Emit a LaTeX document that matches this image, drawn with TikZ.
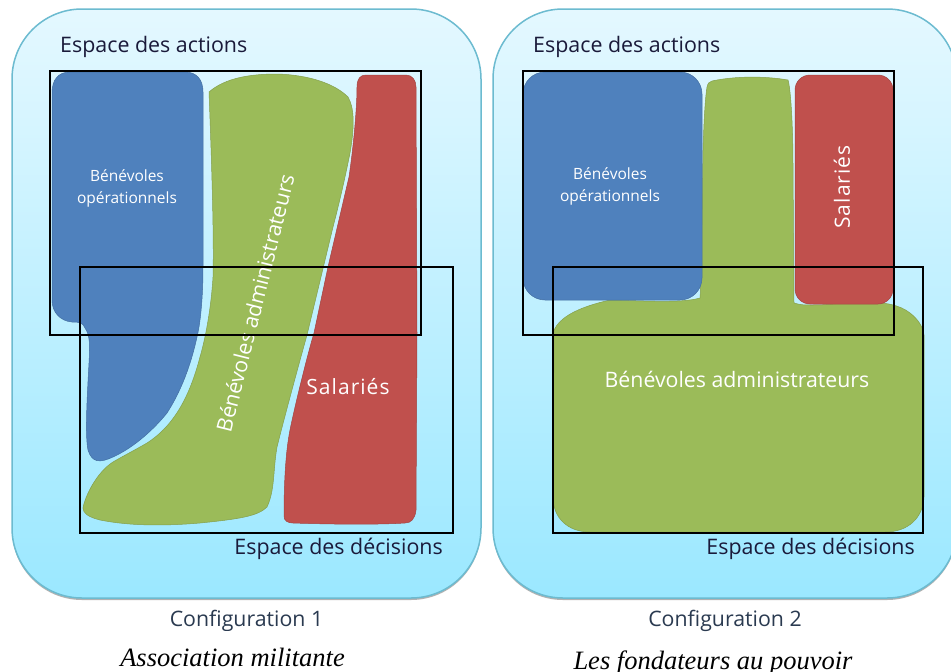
\documentclass[tikz,border=0pt]{standalone}
\usepackage{fontspec}
\setmainfont{Open Sans}
\newfontfamily\capfont{Liberation Serif}
\begin{document}
\begin{tikzpicture}[x=1pt,y=-1pt,
  panel/.style={rounded corners=70pt,draw=panelline,line width=1.5pt,top color=paneltop,bottom color=panelbot},
  panelshadow/.style={rounded corners=70pt,fill=black!30,draw=none},
  blueshape/.style={fill=myblue,draw=myblue!85!black,line width=.5pt},
  greenshape/.style={fill=mygreen,draw=mygreen!85!black,line width=.5pt},
  redshape/.style={fill=myred,draw=myred!85!black,line width=.5pt},
  zone/.style={draw=black,line width=1.6pt},
  zonethin/.style={draw=black,line width=1.4pt},
  titletext/.style={text=titlecol,font=\fontsize{21.4}{23}\selectfont,inner sep=0pt},
  bigtext/.style={text=white,font=\fontsize{21.3}{23}\selectfont,inner sep=0pt},
  salatext/.style={text=white,font=\fontsize{21}{23}\addfontfeature{LetterSpace=5}\selectfont,inner sep=0pt},
  smalltext/.style={text=white,font=\fontsize{15.5}{22}\selectfont,inner sep=0pt,align=center},
  conftext/.style={text=confcol,font=\fontsize{21.3}{23}\selectfont,inner sep=0pt},
  captext/.style={text=black,font=\capfont\itshape\fontsize{26.5}{28}\selectfont,inner sep=0pt,anchor=base}]
\definecolor{panelline}{HTML}{6CBBD0}
\definecolor{paneltop}{HTML}{E4F8FF}
\definecolor{panelbot}{HTML}{9BE8FF}
\definecolor{myblue}{HTML}{4F81BD}
\definecolor{mygreen}{HTML}{9BBB59}
\definecolor{myred}{HTML}{C0504D}
\definecolor{titlecol}{HTML}{1A1A3A}
\definecolor{confcol}{HTML}{2A3A50}
\useasboundingbox (0,0) rectangle (951,672);
\fill[white] (0,0) rectangle (951,672);

% panels
\fill[panelshadow] (12,11) rectangle (481,600);
\path[panel] (12,9) rectangle (481,598);
\begin{scope}
\clip (0,0) rectangle (951,672);
\fill[panelshadow] (493,11) rectangle (957,600);
\path[panel] (493,9) rectangle (957,598);
\end{scope}

% left: blue
\path[blueshape] (52,93) .. controls (52,80) and (58,72) .. (70,72)
  -- (185,72) .. controls (197,72) and (203,80) .. (203,92)
  -- (203,267) .. controls (203,300) and (200,325) .. (197,337)
  .. controls (193,355) and (185,385) .. (167,413)
  .. controls (155,428) and (135,447) .. (113,457)
  .. controls (100,463) and (92,463) .. (88,450)
  .. controls (85,435) and (87,400) .. (89,363)
  .. controls (90,345) and (90,335) .. (85,328)
  .. controls (83,323) and (80,322) .. (72,322)
  .. controls (60,321) and (52,312) .. (52,300) -- cycle;
% left: green
\path[greenshape] (209,92) .. controls (225,78) and (250,74) .. (277,74)
  .. controls (310,75) and (335,84) .. (348,97)
  .. controls (354,107) and (355,125) .. (350,153)
  .. controls (345,178) and (340,200) .. (333,227)
  -- (307,335) .. controls (300,360) and (285,415) .. (277,447)
  .. controls (273,470) and (275,490) .. (267,507)
  .. controls (258,516) and (240,519) .. (200,523)
  .. controls (165,526) and (130,526) .. (100,520)
  .. controls (88,517) and (83,513) .. (83,508)
  .. controls (85,496) and (97,472) .. (113,462)
  .. controls (125,455) and (135,450) .. (147,443)
  .. controls (175,425) and (190,395) .. (200,357)
  .. controls (205,340) and (211,310) .. (213,277)
  .. controls (214,240) and (212,170) .. (209,92) -- cycle;
% left: red
\path[redshape] (357,87) .. controls (357,79) and (360,75) .. (366,75)
  -- (406,75) .. controls (412,75) and (416,80) .. (416,87)
  -- (417,333) -- (416,510) .. controls (415,519) and (411,523) .. (405,523)
  .. controls (375,525) and (320,524) .. (293,523)
  .. controls (288,523) and (284,521) .. (284,516)
  .. controls (284,480) and (286,450) .. (290,430)
  .. controls (294,410) and (306,360) .. (314,333)
  -- (328,267) -- (349,177) .. controls (353,150) and (357,110) .. (357,87) -- cycle;

% right: green
\path[greenshape] (707,87) .. controls (708,83) and (709,82) .. (712,81)
  .. controls (735,76) and (765,76) .. (788,80)
  .. controls (791,90) and (793,130) .. (793,167)
  -- (794,303) .. controls (800,305) and (805,305) .. (813,305)
  .. controls (835,305) and (850,301) .. (863,302)
  .. controls (885,302) and (900,305) .. (910,313)
  .. controls (918,319) and (923,327) .. (924,335)
  -- (924,497) .. controls (923,518) and (908,532) .. (885,532)
  -- (590,532) .. controls (568,532) and (553,518) .. (553,497)
  -- (554,330) .. controls (560,318) and (575,308) .. (610,300)
  .. controls (630,300) and (680,304) .. (700,298)
  .. controls (701,290) and (702,200) .. (703,150)
  .. controls (704,120) and (705,100) .. (707,87) -- cycle;
% right: blue
\path[blueshape,rounded corners=22pt] (523,72) rectangle (702,300);
% right: red
\path[redshape,rounded corners=15pt] (795,75) rectangle (893,304);

% labels inside
\node[smalltext] (bl) at (127,188) {Bénévoles\\opérationnels};
\node[bigtext,rotate=76] (al) at (255,303) {Bénévoles administrateurs};
\node[salatext] (sl) at (348,387) {Salariés};
\node[smalltext] (br) at (610,186) {Bénévoles\\opérationnels};
\node[bigtext] (ar) at (737,379) {Bénévoles administrateurs};
\node[salatext,rotate=90] (sr) at (842,187) {Salariés};

% zones
\draw[zone] (50,71) rectangle (421,335);
\draw[zonethin] (80,267) rectangle (453,533);
\draw[zone] (523,71) rectangle (894,335);
\draw[zonethin] (553,267) rectangle (923,533);

% titles
\node[titletext,anchor=west] (ta) at (60,46.5) {Espace des actions};
\node[titletext,anchor=east] (td) at (443,549) {Espace des décisions};
\node[titletext,anchor=west] (ta2) at (533,46.5) {Espace des actions};
\node[titletext,anchor=east] (td2) at (915,549) {Espace des décisions};

% captions
\begin{scope}
\clip (0,600) rectangle (480,630);
\node[conftext] (c1) at (246.5,621) {Configuration 1};
\end{scope}
\node[conftext] (c2) at (725,621) {Configuration 2};
\node[captext] (k1) at (232.5,666) {Association militante};
\node[captext] (k2) at (713,669) {Les fondateurs au pouvoir};
\end{tikzpicture}
\end{document}
